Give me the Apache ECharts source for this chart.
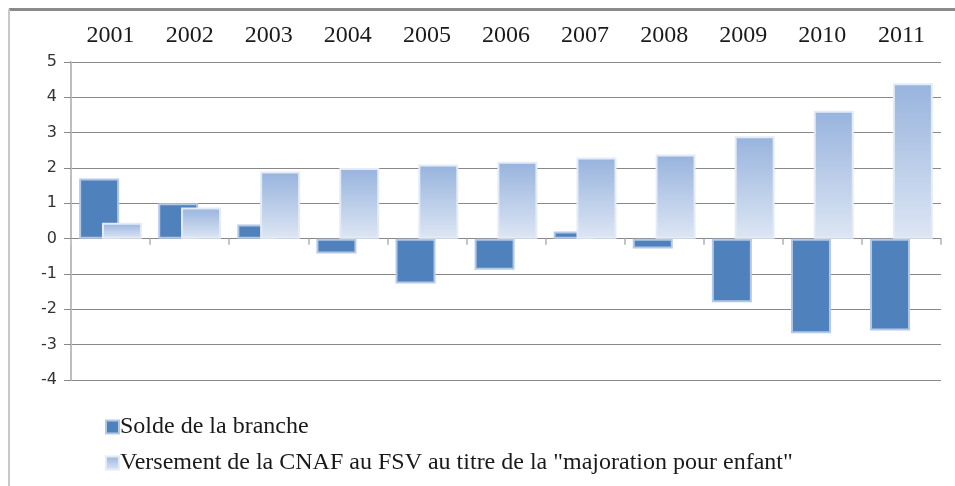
<!DOCTYPE html>
<html><head><meta charset="utf-8">
<script src="https://cdn.jsdelivr.net/npm/echarts@6/dist/echarts.min.js"></script>
<style>html,body{margin:0;padding:0;background:#fff}#c{width:955px;height:486px}</style>
</head><body><div id="c"></div>
<script>
var categories = ['2001','2002','2003','2004','2005','2006','2007','2008','2009','2010','2011'];
var solde = [1.7, 1.0, 0.4, -0.42, -1.27, -0.88, 0.2, -0.28, -1.8, -2.68, -2.6];
var versement = [0.45, 0.88, 1.9, 2.0, 2.1, 2.18, 2.3, 2.38, 2.9, 3.62, 4.4];
var yTicks = [-4,-3,-2,-1,0,1,2,3,4,5];
var seriesNames = ['Solde de la branche', 'Versement de la CNAF au FSV au titre de la "majoration pour enfant"'];

var chart = echarts.init(document.getElementById('c'), null, {renderer:'canvas'});
chart.setOption({
  animation: false,
  backgroundColor: '#fff',
  graphic: [
    {type:'rect', shape:{x:9, y:8, width:946, height:3}, style:{fill:'#8a8a8a'}, silent:true},
    {type:'rect', shape:{x:8, y:9, width:2, height:477}, style:{fill:'#c8c8c8'}, silent:true}
  ],
  grid: {left:71, right:14, top:62, bottom:106, containLabel:false},
  legend: {
    orient:'vertical', left:100, top:410, itemGap:12, itemWidth:13, itemHeight:13,
    icon:'rect',
    textStyle:{fontFamily:'Liberation Serif', fontSize:24, color:'#1a1a1a', padding:[0,0,0,-4]},
    data: seriesNames
  },
  xAxis: [
    {type:'category', data:categories, position:'bottom',
     axisLine:{onZero:true, lineStyle:{color:'#888', width:1}},
     axisTick:{show:true, length:6, lineStyle:{color:'#c4c4c4', width:2}},
     axisLabel:{show:false}, splitLine:{show:false}},
    {type:'category', data:categories, position:'top',
     axisLine:{show:false}, axisTick:{show:false},
     axisLabel:{show:true, margin:14, fontFamily:'Liberation Serif', fontSize:24, color:'#1a1a1a'}}
  ],
  yAxis: {
    type:'value', min:-4, max:5, interval:1,
    axisLine:{show:true, lineStyle:{color:'#bdbdbd', width:2}},
    axisTick:{show:true, length:7, lineStyle:{color:'#888'}},
    axisLabel:{margin:14, fontFamily:'DejaVu Sans', fontSize:16, color:'#333',
      formatter:function(v){ return yTicks.indexOf(v) >= 0 ? String(v) : ''; }},
    splitLine:{show:true, lineStyle:{color:'#888', width:1}}
  },
  series: [
    {name:seriesNames[0], type:'bar', xAxisIndex:0, data:solde, barWidth:40, barGap:'-43%',
     itemStyle:{color:'#4f81bd', borderColor:'#b3c8e6', borderWidth:2}},
    {name:seriesNames[1], type:'bar', xAxisIndex:0, data:versement, barWidth:40,
     itemStyle:{color:new echarts.graphic.LinearGradient(0,0,0,1,[
        {offset:0,color:'#97b3dd'},{offset:1,color:'#dde6f4'}]),
       borderColor:'#e4ebf6', borderWidth:2}}
  ]
});
</script></body></html>
